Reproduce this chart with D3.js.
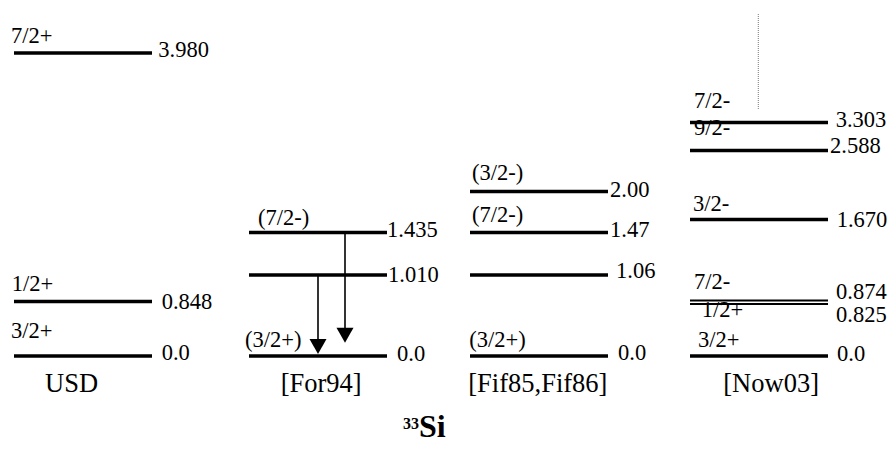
<!DOCTYPE html>
<html><head><meta charset="utf-8">
<script src="https://cdn.jsdelivr.net/npm/d3@7"></script>
<style>body{margin:0;background:#fff}svg{display:block}</style>
</head><body><svg id="c" width="888" height="449"></svg>
<script>
// ---------------- DATA ----------------
const columns = ["USD", "[For94]", "[Fif85,Fif86]", "[Now03]"];

const usdEnergies = [0, 0.848, 3.980];
const usdEnergyLabels = ["0.0", "0.848", "3.980"];
const usdSpins = ["3/2+", "1/2+", "7/2+"];

const for94Energies = [0, 1.010, 1.435];
const for94EnergyLabels = ["0.0", "1.010", "1.435"];
const for94Spins = ["(3/2+)", "", "(7/2-)"];

const fifEnergies = [0, 1.06, 1.47, 2.00];
const fifEnergyLabels = ["0.0", "1.06", "1.47", "2.00"];
const fifSpins = ["(3/2+)", "", "(7/2-)", "(3/2-)"];

const now03Energies = [0, 0.825, 0.874, 1.670, 2.588, 3.303];
const now03EnergyLabels = ["0.0", "0.825", "0.874", "1.670", "2.588", "3.303"];
const now03Spins = ["3/2+", "1/2+", "7/2-", "3/2-", "9/2-", "7/2-"];

const for94Transitions = [[1.010, 0], [1.435, 0]];

const nucleusMass = "33";
const nucleusSymbol = "Si";

// ---------------- LAYOUT (kept apart from data) ----------------
const svg = d3.select("#c");
const W = 888, H = 449;
svg.append("rect").attr("width", W).attr("height", H).attr("fill", "#fff");

const levelWidth = 138;
const colX = d3.scaleOrdinal().domain(columns).range([14, 249, 470, 690]);
// schematic (non-proportional) energy axis, as in the original drawing
const y = d3.scaleLinear()
  .domain([0, 0.825, 0.848, 0.874, 1.010, 1.060, 1.435, 1.470, 1.670, 2.000, 2.588, 3.303, 3.980])
  .range([356, 304, 301.5, 300.5, 275, 275, 232.5, 232.5, 219.5, 191.5, 150.5, 122.5, 53]);

const columnData = [
  { name: columns[0], E: usdEnergies, L: usdEnergyLabels, S: usdSpins,
    eN: [[9.7, 4], [9.7, 7.5], [6.3, 4]],
    sN: [[-3, -18], [-2.3, -11], [-3, -10]], thin: [] , labelDx: 31 },
  { name: columns[1], E: for94Energies, L: for94EnergyLabels, S: for94Spins,
    eN: [[10, 5], [1, 6.7], [0, 4]],
    sN: [[-4, -9.5], [0, 0], [9, -8]], thin: [], labelDx: 31.7 },
  { name: columns[2], E: fifEnergies, L: fifEnergyLabels, S: fifSpins,
    eN: [[10, 4], [8, 3.3], [2, 4.5], [2, 5]],
    sN: [[-0.7, -9.5], [0, 0], [2, -11], [2, -11.5]], thin: [], labelDx: -1.7 },
  { name: columns[3], E: now03Energies, L: now03EnergyLabels, S: now03Spins,
    eN: [[9, 4.5], [8, 17.7], [8, -1.2], [8.7, 7.2], [2, 2.8], [7.7, 4.5]],
    sN: [[8, -9], [11.7, 13], [4, -11.2], [3, -8.8], [4, -15.5], [4, -14.5]], thin: [1, 2], labelDx: 33.3 }
];

const serif = "'Liberation Serif','Times New Roman',serif";
const textLayer = svg.append("g");
const lineLayer = svg.append("g");

columnData.forEach(col => {
  const x0 = colX(col.name), x1 = x0 + levelWidth;
  const levels = col.E.map((e, i) => ({ e, i, label: col.L[i], spin: col.S[i] }));

  textLayer.append("g").selectAll("text.energy").data(levels).join("text")
    .attr("class", "energy")
    .attr("x", d => x1 + col.eN[d.i][0])
    .attr("y", d => y(d.e) + col.eN[d.i][1])
    .attr("font-family", serif).attr("font-size", 22.5)
    .text(d => d.label);

  textLayer.append("g").selectAll("text.spin").data(levels.filter(d => d.spin)).join("text")
    .attr("class", "spin")
    .attr("x", d => x0 + col.sN[d.i][0])
    .attr("y", d => y(d.e) + col.sN[d.i][1])
    .attr("font-family", serif).attr("font-size", 22.5)
    .text(d => d.spin);

  textLayer.append("text")
    .attr("x", x0 + col.labelDx).attr("y", 392)
    .attr("font-family", serif).attr("font-size", 26.5)
    .text(col.name);

  lineLayer.append("g").selectAll("line.level").data(levels).join("line")
    .attr("class", "level")
    .attr("x1", x0).attr("x2", x1)
    .attr("y1", d => y(d.e)).attr("y2", d => y(d.e))
    .attr("stroke", "#000")
    .attr("stroke-width", d => col.thin.includes(d.i) ? 1.8 : 3.6);
});

// gamma transitions in [For94]
const arrowDx = [69, 96];
const tipGap = [2, 13.3];
const ax0 = colX(columns[1]);
const ag = svg.append("g");
for94Transitions.forEach((t, i) => {
  const x = ax0 + arrowDx[i];
  const tipY = y(t[1]) - tipGap[i];
  const headH = 15, headW = 8.5;
  ag.append("line")
    .attr("x1", x).attr("x2", x)
    .attr("y1", y(t[0])).attr("y2", tipY - headH + 1)
    .attr("stroke", "#000").attr("stroke-width", 1.6);
  ag.append("path")
    .attr("d", `M${x},${tipY} L${x - headW},${tipY - headH} L${x + headW},${tipY - headH} Z`)
    .attr("fill", "#000");
});

// dotted guide above the 3.303 level in [Now03]
const dx = colX(columns[3]) + levelWidth / 2 - 0.7;
svg.append("line")
  .attr("x1", dx).attr("x2", dx)
  .attr("y1", 14).attr("y2", y(3.303) - 13.5)
  .attr("stroke", "#7a7a7a").attr("stroke-width", 1)
  .attr("stroke-dasharray", "1,1");

// nucleus title
const title = svg.append("text")
  .attr("x", 403).attr("y", 437)
  .attr("font-family", serif).attr("font-weight", "bold");
title.append("tspan").attr("font-size", 16).attr("dy", -8).text(nucleusMass);
title.append("tspan").attr("font-size", 32).attr("dy", 8).text(nucleusSymbol);
</script>
</body></html>
